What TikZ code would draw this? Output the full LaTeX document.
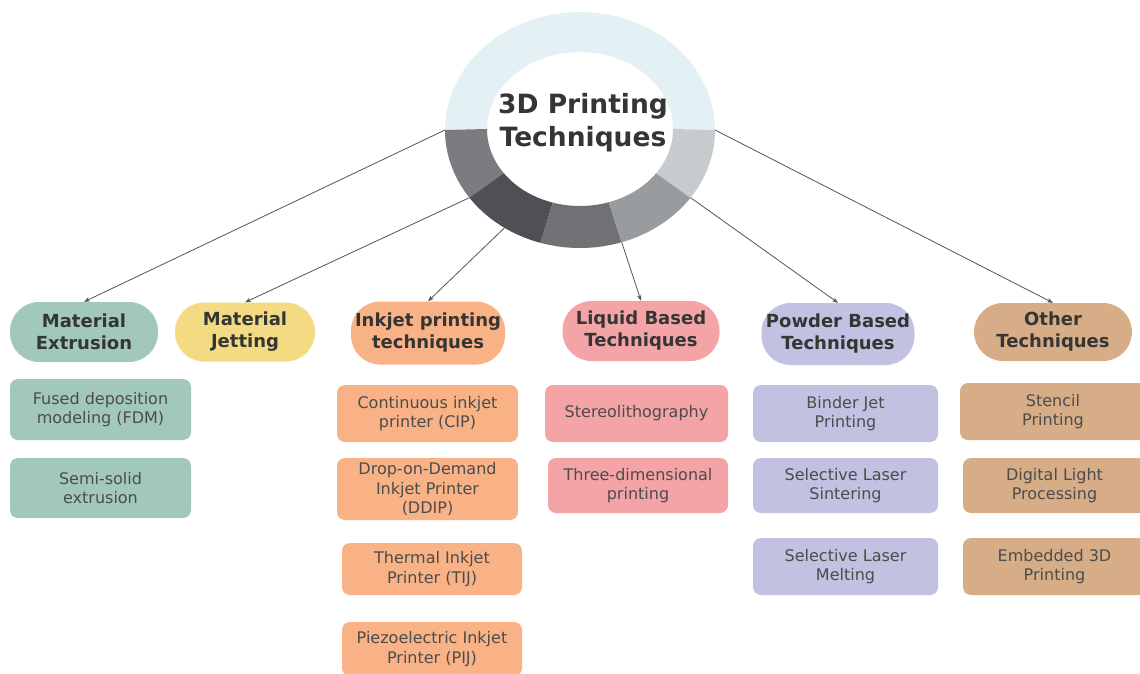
\documentclass[tikz,border=0pt]{standalone}
\usepackage{fontspec}
\setmainfont{DejaVu Sans}
\usetikzlibrary{arrows.meta}
\definecolor{ringtop}{HTML}{E4F1F4}
\definecolor{segA}{HTML}{7B7B80}
\definecolor{segB}{HTML}{4F4F55}
\definecolor{segC}{HTML}{707075}
\definecolor{segD}{HTML}{999C9F}
\definecolor{segE}{HTML}{C6CBCE}
\definecolor{cext}{HTML}{A1C8B9}
\definecolor{cjet}{HTML}{F5DA84}
\definecolor{cink}{HTML}{F8B285}
\definecolor{cliq}{HTML}{F4A3A6}
\definecolor{cpow}{HTML}{C1C1E2}
\definecolor{coth}{HTML}{D6AD87}
\definecolor{headtxt}{HTML}{353535}
\definecolor{subtxt}{HTML}{4C4C4C}
\definecolor{linec}{HTML}{555555}
\begin{document}
\begin{tikzpicture}[x=1pt,y=-1pt,
  titletext/.style={font=\fontsize{26.5}{33}\selectfont\bfseries, text=headtxt, align=center, inner sep=0},
  pill/.style={rounded corners=29pt, inner sep=0, align=center, text=headtxt,
    font=\fontsize{18}{22}\selectfont\bfseries},
  subbox/.style={rounded corners=8pt, inner sep=0, align=center, text=subtxt,
    font=\fontsize{16}{19.5}\selectfont},
  conn/.style={draw=linec, line width=0.8pt, -{Stealth[length=6pt,width=4.5pt]}}
]
\useasboundingbox (0,0) rectangle (1140,674);
\clip (0,0) rectangle (1140,674);
\fill[white] (0,0) rectangle (1140,674);

% ring
\foreach \a/\b/\c in {180/360/ringtop, 145/180/segA, 107/145/segB, 72/107/segC, 35/72/segD, 0/35/segE}
  \fill[\c] plot[domain=\a:\b,samples=60] ({580+135*cos(\x)},{130+118*sin(\x)})
    -- plot[domain=\b:\a,samples=60] ({580+93*cos(\x)},{129+77*sin(\x)}) -- cycle;

\coordinate (r1) at ({580+135*cos(180)},{130+118*sin(180)});
\coordinate (r2) at ({580+135*cos(145)},{130+118*sin(145)});
\coordinate (r3) at ({580+135*cos(124)},{130+118*sin(124)});
\coordinate (r4) at ({580+135*cos(72)},{130+118*sin(72)});
\coordinate (r5) at ({580+135*cos(35)},{130+118*sin(35)});
\coordinate (r6) at ({580+135*cos(0)},{130+118*sin(0)});

\node[titletext] (title) at (583,123) {3D Printing\\Techniques};

% category pills
\node[pill, fill=cext, minimum width=148pt, minimum height=60pt] (ext) at (84,332) {Material\\Extrusion};
\node[pill, fill=cjet, minimum width=140pt, minimum height=59pt] (jet) at (245,332) {Material\\Jetting};
\node[pill, fill=cink, minimum width=154pt, minimum height=63pt] (ink) at (428,333) {Inkjet printing\\techniques};
\node[pill, fill=cliq, minimum width=157pt, minimum height=60pt] (liq) at (641,331) {Liquid Based\\Techniques};
\node[pill, fill=cpow, minimum width=153pt, minimum height=62pt] (pow) at (838,334) {Powder Based\\Techniques};
\node[pill, fill=coth, minimum width=158pt, minimum height=58pt] (oth) at (1053,332) {Other\\Techniques};

% sub boxes
\node[subbox, fill=cext, minimum width=181pt, minimum height=61pt] (fdm) at (100.5,409.5) {Fused deposition\\modeling (FDM)};
\node[subbox, fill=cext, minimum width=181pt, minimum height=60pt] (semi) at (100.5,488) {Semi-solid\\extrusion};

\node[subbox, fill=cink, minimum width=181pt, minimum height=57pt] (cip) at (427.5,413.5) {Continuous inkjet\\printer (CIP)};
\node[subbox, fill=cink, minimum width=181pt, minimum height=62pt] (ddip) at (427.5,489) {Drop-on-Demand\\Inkjet Printer\\(DDIP)};
\node[subbox, fill=cink, minimum width=180pt, minimum height=52pt] (tij) at (432,569) {Thermal Inkjet\\Printer (TIJ)};
\node[subbox, fill=cink, minimum width=180pt, minimum height=54pt] (pij) at (432,649) {Piezoelectric Inkjet\\Printer (PIJ)};

\node[subbox, fill=cliq, minimum width=183pt, minimum height=57pt] (sla) at (636.5,413.5) {Stereolithography};
\node[subbox, fill=cliq, minimum width=180pt, minimum height=55pt] (tdp) at (638,485.5) {Three-dimensional\\printing};

\node[subbox, fill=cpow, minimum width=185pt, minimum height=57pt] (bjp) at (845.5,413.5) {Binder Jet\\Printing};
\node[subbox, fill=cpow, minimum width=185pt, minimum height=55pt] (sls) at (845.5,485.5) {Selective Laser\\Sintering};
\node[subbox, fill=cpow, minimum width=185pt, minimum height=57pt] (slm) at (845.5,566.5) {Selective Laser\\Melting};

\node[subbox, fill=coth, minimum width=186pt, minimum height=57pt] (sten) at (1053,411.5) {Stencil\\Printing};
\node[subbox, fill=coth, minimum width=183pt, minimum height=55pt] (dlp) at (1054.5,485.5) {Digital Light\\Processing};
\node[subbox, fill=coth, minimum width=183pt, minimum height=57pt] (e3d) at (1054.5,566.5) {Embedded 3D\\Printing};

% connectors
\draw[conn] (r1) -- (ext.north);
\draw[conn] (r2) -- (jet.north);
\draw[conn] (r3) -- (ink.north);
\draw[conn] (r4) -- (liq.north);
\draw[conn] (r5) -- (pow.north);
\draw[conn] (r6) -- (oth.north);
\end{tikzpicture}
\end{document}
